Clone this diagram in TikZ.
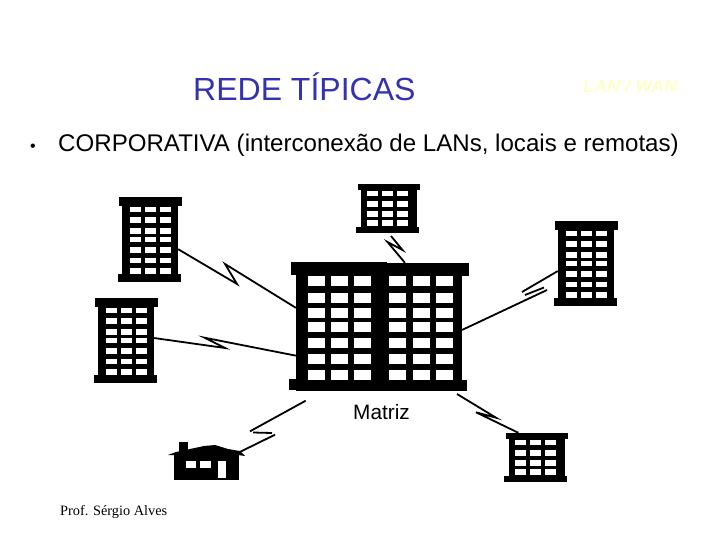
\documentclass[tikz,border=0pt]{standalone}
\usepackage{fontspec}
\setmainfont{Liberation Sans}
\newfontfamily\profserif{Liberation Serif}
\definecolor{titleblue}{HTML}{3333B2}
\definecolor{paleyellow}{HTML}{FFFFCC}

\begin{document}
\begin{tikzpicture}[
  x=1pt, y=-1pt,
  label/.style={anchor=base west, inner sep=0pt, text=black},
  wall/.style={fill=black, draw=none, inner sep=0pt, minimum width=56pt},
  link/.style={line width=1.8pt, line join=miter, line cap=butt},
  tall/.pic={
    \node[wall, minimum height=85pt] (body) at (31, 42.5) {};
    \fill (0, 0) rectangle (63, 9);
    \fill (-1, 76.5) rectangle (62, 85);
    \foreach \wx in {11, 26, 41}
      \foreach \wy/\wb in {10/15, 20/26, 31/37, 40/45, 50/56, 61/66, 71/76.5}
        \fill[white] (\wx, \wy) rectangle (\wx+11, \wb);
  },
  short/.pic={
    \node[wall, minimum height=49pt] (body) at (31, 24.5) {};
    \fill (0, 0) rectangle (62, 6);
    \fill (-2, 43) rectangle (61, 49);
    \foreach \wx in {9, 24, 39}
      \foreach \wy/\wb in {7/12, 17/23, 27/33, 36/42}
        \fill[white] (\wx, \wy) rectangle (\wx+11, \wb);
  },
]
\useasboundingbox (0, 0) rectangle (720, 540);
\fill[white] (0, 0) rectangle (720, 540);

% ---- Heading and the bullet line -------------------------------------------
\node[label, text=titleblue, font=\fontsize{32}{36}\selectfont] (title) at (193, 101) {REDE TÍPICAS};
\node[label, text=paleyellow, font=\fontsize{18}{20}\selectfont\bfseries\itshape] (tag) at (583, 93) {LAN / WAN};
\node[label, font=\fontsize{16}{18}\selectfont] (dot) at (30, 152) {•};
\node[label, font=\fontsize{24.1}{28}\selectfont] (line) at (58, 152) {CORPORATIVA (interconexão de LANs, locais e remotas)};

% ---- Head office: two wings side by side -----------------------------------
\node[wall, minimum width=166pt, minimum height=128pt] (matriz) at (379, 327) {};
\fill (291, 262) rectangle (387, 275);
\fill (387, 263) rectangle (469, 276);
\fill (289, 379) rectangle (372, 390);
\fill (372, 380) rectangle (467, 391);
\foreach \wx in {308, 331, 354, 389, 413, 436}
  \foreach \wy in {276, 293, 308, 322, 338, 354, 370}
    \fill[white] (\wx, \wy) rectangle (\wx+17, \wy+10);
\node[label, font=\fontsize{20.8}{24}\selectfont] (matrizname) at (353, 419) {Matriz};

% ---- Branch offices --------------------------------------------------------
\pic (north) at (358, 184) {short};
\pic (west) at (119, 197) {tall};
\pic (south) at (95, 298) {tall};
\pic (east) at (555, 221) {tall};
\pic (branch) at (506, 433) {short};

% ---- Small house -----------------------------------------------------------
\node[fill=black, inner sep=0pt, minimum width=65pt, minimum height=27pt] (house) at (206.5, 466) {};
\fill (179, 442) rectangle (188, 452);
\fill (168, 455) -- (176, 452) -- (190, 449) -- (204, 446) -- (215, 445) -- (228, 449)
  -- (240, 451) -- (245, 456) -- (238, 455) -- (238, 454) -- (175, 454) -- (175, 455) -- cycle;
\fill[white] (186, 461) rectangle (196, 468);
\fill[white] (200, 461) rectangle (211, 468);
\fill[white] (218, 461) rectangle (226, 478);

% ---- Links: each one with its lightning kink -------------------------------
\coordinate (k1a) at (237, 284);
\coordinate (k1b) at (225, 264);
\draw[link] (westbody.-19) -- (k1a) -- (k1b) -- (matriz.167.8);

\coordinate (k2a) at (225, 348);
\coordinate (k2b) at (204.5, 337.7);
\draw[link] (southbody.5) -- (k2a) -- (k2b) -- (matriz.199);

\coordinate (k3a) at (522, 292);
\coordinate (k3b) at (525, 295);
\coordinate (k3c) at (544, 287.5);
\coordinate (k3d) at (547, 290);
\draw[link] (eastbody.195) -- (k3a) (k3b) -- (k3c) (k3d) -- (matriz.-2.8);

\coordinate (k4o) at (391, 236);
\coordinate (k4a) at (402.5, 250);
\coordinate (k4b) at (387.5, 242);
\draw[link] (k4o) -- (k4a) -- (k4b) -- (matriz.68.7);

\coordinate (k5o) at (457, 394);
\coordinate (k5a) at (496, 417.7);
\coordinate (k5b) at (476, 412.3);
\draw[link] (k5o) -- (k5a) -- (k5b) -- (branchbody.127.4);

\coordinate (k6o) at (305.7, 400.7);
\coordinate (k6a) at (250, 431.3);
\coordinate (k6b) at (253, 432.5);
\coordinate (k6c) at (272, 433);
\coordinate (k6d) at (275, 434.7);
\draw[link] (k6o) -- (k6a) (k6b) -- (k6c) (k6d) -- (house.north east);

% ---- Footer ----------------------------------------------------------------
\node[label, font=\fontsize{14.3}{16}\selectfont\profserif] (prof) at (60, 515) {Prof. Sérgio Alves};

\end{tikzpicture}
\end{document}
